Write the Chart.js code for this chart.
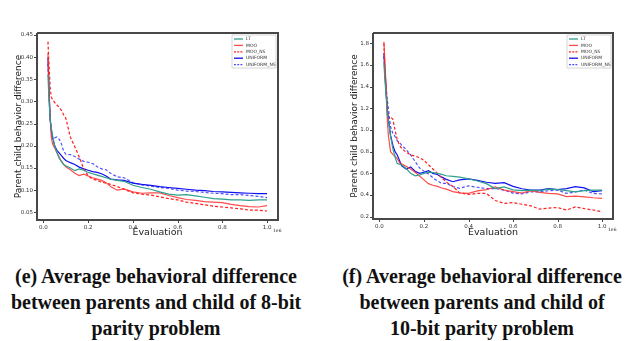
<!DOCTYPE html>
<html>
<head>
<meta charset="utf-8">
<script src="https://cdn.jsdelivr.net/npm/chart.js@4.4.0/dist/chart.umd.min.js"></script>
<style>
  html, body { margin: 0; padding: 0; background: #fff; }
  body { width: 640px; height: 341px; position: relative; overflow: hidden; }
  canvas { position: absolute; top: 0; }
  #c1 { left: 0; }
  #c2 { left: 320px; }
  .cap { position: absolute; top: 263px; width: 340px; text-align: center;
         font-family: "Liberation Serif", serif; font-weight: bold; font-size: 20px;
         line-height: 26px; color: #111; white-space: nowrap; }
  #cap1 { left: -14px; }
  #cap2 { left: 312px; }
</style>
</head>
<body>
<canvas id="c1" width="320" height="250"></canvas>
<canvas id="c2" width="320" height="250"></canvas>
<div class="cap" id="cap1">(e) Average behavioral difference<br>between parents and child of 8-bit<br>parity problem</div>
<div class="cap" id="cap2">(f) Average behavioral difference<br>between parents and child of<br>10-bit parity problem</div>
<script>
// evaluations (x 1e6)
const evals = [0.02,0.025,0.03,0.035,0.04,0.05,0.06,0.07,0.08,0.09,0.10,0.12,0.14,0.16,0.18,0.20,0.22,0.24,0.26,0.28,0.30,0.33,0.36,0.40,0.44,0.48,0.52,0.56,0.60,0.64,0.68,0.72,0.76,0.80,0.84,0.88,0.92,0.96,1.00];
const seriesNames = ['LT','MOO','MOO_NS','UNIFORM','UNIFORM_NS'];
const xTicks = [0.0,0.2,0.4,0.6,0.8,1.0];

// (e) 8-bit parity
const e_LT = [0.36,0.30,0.26,0.24,0.225,0.20,0.185,0.172,0.165,0.158,0.155,0.150,0.144,0.148,0.145,0.140,0.137,0.134,0.131,0.128,0.125,0.122,0.120,0.111,0.106,0.102,0.096,0.091,0.089,0.090,0.087,0.084,0.081,0.080,0.078,0.078,0.077,0.078,0.078];
const e_MOO = [0.41,0.33,0.26,0.22,0.205,0.195,0.185,0.175,0.165,0.158,0.153,0.146,0.138,0.133,0.136,0.132,0.128,0.125,0.122,0.117,0.108,0.100,0.103,0.096,0.093,0.094,0.094,0.088,0.083,0.079,0.077,0.074,0.073,0.072,0.068,0.065,0.063,0.062,0.065];
const e_MOO_NS = [0.435,0.38,0.33,0.31,0.305,0.298,0.292,0.287,0.280,0.270,0.262,0.220,0.198,0.175,0.148,0.132,0.125,0.122,0.118,0.116,0.113,0.108,0.102,0.094,0.091,0.089,0.085,0.081,0.078,0.073,0.070,0.067,0.064,0.062,0.060,0.058,0.055,0.055,0.053];
const e_UNIFORM = [0.40,0.32,0.26,0.235,0.22,0.20,0.19,0.184,0.178,0.172,0.167,0.162,0.158,0.152,0.148,0.145,0.142,0.140,0.137,0.132,0.125,0.123,0.122,0.116,0.113,0.111,0.108,0.106,0.104,0.102,0.100,0.099,0.097,0.096,0.095,0.094,0.093,0.092,0.092];
const e_UNIFORM_NS = [0.385,0.31,0.26,0.235,0.222,0.218,0.220,0.215,0.205,0.188,0.181,0.180,0.176,0.170,0.165,0.163,0.160,0.153,0.148,0.146,0.138,0.130,0.128,0.117,0.112,0.109,0.106,0.104,0.100,0.098,0.097,0.095,0.093,0.092,0.090,0.090,0.088,0.086,0.083];
const e_yTicks = [0.05,0.10,0.15,0.20,0.25,0.30,0.35,0.40,0.45];

// (f) 10-bit parity
const f_LT = [1.615,1.45,1.31,1.15,1.09,0.94,0.83,0.75,0.69,0.685,0.678,0.645,0.60,0.578,0.585,0.60,0.612,0.608,0.60,0.59,0.578,0.572,0.565,0.55,0.53,0.505,0.46,0.475,0.448,0.44,0.445,0.44,0.455,0.45,0.44,0.43,0.44,0.446,0.446];
const f_MOO = [1.815,1.60,1.40,1.10,0.95,0.80,0.775,0.76,0.735,0.70,0.685,0.665,0.64,0.61,0.575,0.54,0.505,0.49,0.48,0.465,0.455,0.432,0.42,0.415,0.438,0.45,0.475,0.446,0.432,0.418,0.44,0.425,0.415,0.41,0.385,0.39,0.384,0.375,0.37];
const f_MOO_NS = [1.80,1.55,1.40,1.20,1.10,1.12,1.10,1.00,0.91,0.86,0.83,0.795,0.77,0.76,0.745,0.72,0.68,0.64,0.60,0.56,0.52,0.48,0.42,0.405,0.415,0.415,0.35,0.323,0.33,0.315,0.30,0.27,0.28,0.285,0.262,0.29,0.275,0.262,0.246];
const f_UNIFORM = [1.71,1.50,1.34,1.20,1.10,0.95,0.86,0.80,0.77,0.72,0.67,0.64,0.66,0.62,0.60,0.61,0.625,0.60,0.59,0.565,0.545,0.523,0.54,0.55,0.535,0.518,0.508,0.515,0.48,0.458,0.446,0.446,0.46,0.45,0.46,0.477,0.466,0.432,0.44];
const f_UNIFORM_NS = [1.68,1.50,1.40,1.28,1.20,1.03,0.97,0.94,0.90,0.885,0.86,0.82,0.77,0.71,0.65,0.62,0.595,0.56,0.53,0.508,0.508,0.478,0.462,0.485,0.472,0.46,0.46,0.446,0.418,0.41,0.43,0.43,0.44,0.446,0.415,0.43,0.446,0.415,0.41];
const f_yTicks = [0.2,0.4,0.6,0.8,1.0,1.2,1.4,1.6,1.8];

const styles = {
  LT:         { color: '#2ca08c', dash: [] },
  MOO:        { color: 'rgba(255,45,45,0.85)', dash: [] },
  MOO_NS:     { color: '#ff1f1f', dash: [3,2] },
  UNIFORM:    { color: '#1010f0', dash: [] },
  UNIFORM_NS: { color: 'rgba(50,50,255,0.85)', dash: [3,2] }
};

// frame, legend and the 1e6 offset label
const decorPlugin = {
  id: 'decor',
  afterDraw(chart) {
    const ctx = chart.ctx;
    const a = chart.chartArea;
    const L = Math.round(a.left), T = Math.round(a.top), R = Math.round(a.right), B = Math.round(a.bottom);
    ctx.save();
    ctx.setLineDash([]);
    ctx.strokeStyle = '#484848';
    ctx.lineWidth = 2;
    ctx.beginPath();
    ctx.moveTo(L, T); ctx.lineTo(R, T); ctx.lineTo(R, B); ctx.lineTo(L, B); ctx.lineTo(L, T);
    ctx.stroke();

    // legend box
    const bx = R - 46, by = T + 2, bw = 44, bh = 33;
    ctx.fillStyle = '#ffffff';
    ctx.fillRect(bx, by, bw, bh);
    ctx.strokeStyle = '#cccccc';
    ctx.lineWidth = 0.8;
    ctx.beginPath();
    ctx.moveTo(bx, by); ctx.lineTo(bx + bw, by); ctx.lineTo(bx + bw, by + bh); ctx.lineTo(bx, by + bh); ctx.closePath();
    ctx.stroke();
    ctx.font = '4.5px "DejaVu Sans"';
    ctx.textBaseline = 'middle';
    seriesNames.forEach((n, i) => {
      const y = by + 4 + i * 6.4;
      ctx.strokeStyle = styles[n].color;
      ctx.lineWidth = 1.3;
      ctx.setLineDash(styles[n].dash.length ? [2, 1.2] : []);
      ctx.beginPath(); ctx.moveTo(bx + 2, y); ctx.lineTo(bx + 11, y); ctx.stroke();
      ctx.setLineDash([]);
      ctx.fillStyle = '#333';
      ctx.fillText(n, bx + 14, y);
    });

    // tick marks
    ctx.strokeStyle = '#444';
    ctx.lineWidth = 1;
    const xs = chart.scales.x, ys = chart.scales.y;
    ctx.beginPath();
    xTicks.forEach(v => { const px = Math.round(xs.getPixelForValue(v)) + 0.5; ctx.moveTo(px, B); ctx.lineTo(px, B + 3); });
    ys.ticks.forEach(t => { const py = Math.round(ys.getPixelForValue(t.value)) + 0.5; ctx.moveTo(L - 3, py); ctx.lineTo(L, py); });
    ctx.stroke();

    ctx.fillStyle = '#333';
    ctx.textAlign = 'left';
    ctx.fillText('1e6', R - 5, B + 11);
    ctx.restore();
  }
};

function makeChart(id, ys, yTicks, yMin, yMax, yDigits, yW, padLeft, padRight, xH) {
  const datasets = seriesNames.map((n, k) => ({
    label: n,
    data: evals.map((x, i) => ({x: x, y: ys[k][i]})),
    borderColor: styles[n].color,
    borderDash: styles[n].dash,
    borderWidth: 1.2,
    pointRadius: 0,
    fill: false
  }));
  return new Chart(document.getElementById(id), {
    type: 'line',
    data: { datasets },
    options: {
      responsive: false, animation: false, devicePixelRatio: 1,
      layout: { padding: { top: 33, left: padLeft, right: padRight, bottom: 0 } },
      plugins: { legend: { display: false }, tooltip: { enabled: false } },
      scales: {
        x: {
          type: 'linear', min: -0.029, max: 1.049,
          afterBuildTicks: s => { s.ticks = xTicks.map(v => ({value: v})); },
          afterFit: s => { s.height = xH; s.paddingLeft = 0; s.paddingRight = 0; },
          ticks: { font: { size: 5.5, family: 'DejaVu Sans' }, color: '#333', padding: 1, maxRotation: 0,
                   callback: v => v.toFixed(1) },
          grid: { display: false, tickLength: 3 },
          border: { display: false },
          title: { display: true, text: 'Evaluation', color: '#222',
                   font: { size: 9.5, family: 'DejaVu Sans' }, padding: { top: 0, bottom: 12 } }
        },
        y: {
          min: yMin, max: yMax,
          afterBuildTicks: s => { s.ticks = yTicks.map(v => ({value: v})); },
          afterFit: s => { s.width = yW; s.paddingTop = 0; s.paddingBottom = 0; },
          ticks: { font: { size: 5.5, family: 'DejaVu Sans' }, color: '#333', padding: 4,
                   callback: v => v.toFixed(yDigits) },
          grid: { display: false, tickLength: 0 },
          border: { display: false },
          title: { display: true, text: 'Parent child behavior difference', color: '#222',
                   font: { size: 9, family: 'DejaVu Sans' }, padding: { top: 13, bottom: 0 } }
        }
      }
    },
    plugins: [decorPlugin]
  });
}

makeChart('c1', [e_LT, e_MOO, e_MOO_NS, e_UNIFORM, e_UNIFORM_NS], e_yTicks, 0.0327, 0.4545, 2, 37, 0, 42, 30);
makeChart('c2', [f_LT, f_MOO, f_MOO_NS, f_UNIFORM, f_UNIFORM_NS], f_yTicks, 0.179, 1.895, 1, 37, 16, 27, 31);
</script>
</body>
</html>
